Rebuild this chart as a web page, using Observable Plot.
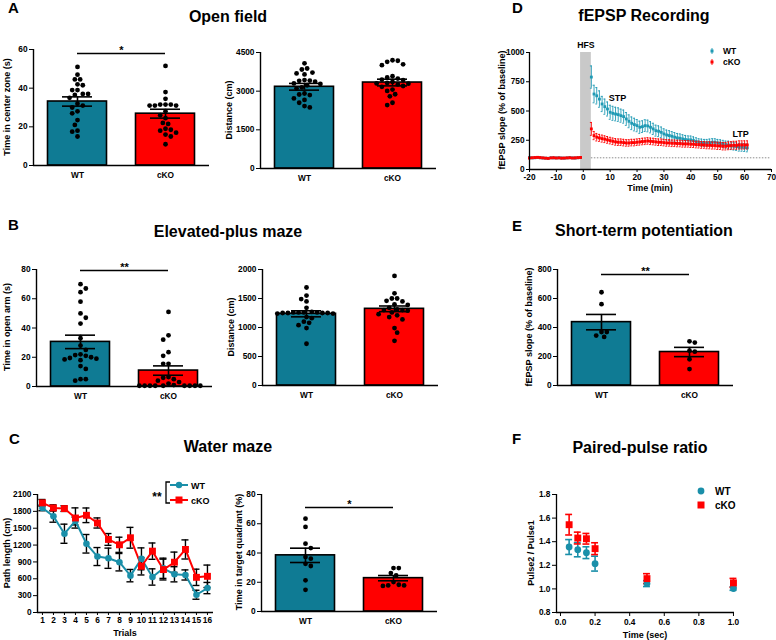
<!DOCTYPE html>
<html><head><meta charset="utf-8">
<script src="https://cdn.jsdelivr.net/npm/d3@7"></script>
<script src="https://cdn.jsdelivr.net/npm/@observablehq/plot@0.6"></script>
<style>
html,body{margin:0;padding:0;background:#fff;}
#page{position:relative;width:776px;height:640px;overflow:hidden;font-family:"Liberation Sans",Arial,sans-serif;}
.pw{position:absolute;}
.pw svg{display:block;overflow:visible;max-width:none;}
.pw g[aria-label^="y-axis"] line,.pw g[aria-label^="x-axis"] line{stroke-width:1.3px;}
#ov{position:absolute;left:0;top:0;pointer-events:none;}
</style></head><body><div id="page"></div>
<script>
// ---------------- DATA ----------------
const groups = ["WT", "cKO"];

// A: Open field
const centerTimeTicks = [0, 20, 40, 60];
const centerTimeMean = [33.1, 26.8];
const centerTimeSem = [2.4, 2.3];
const centerTimeWT = [51, 47, 44.5, 44.5, 42, 41.5, 39, 39, 37, 37, 36.5, 35, 32, 31, 30, 28, 27, 23.5, 21, 18, 17.5, 15];
const centerTimeKO = [51.5, 38, 34.5, 31.5, 31.5, 31, 31, 31, 31.5, 28, 26, 24.5, 22, 21.5, 19, 18.5, 18, 17, 16, 15, 11];
const centerTimeSig = 57.9;

const openDistTicks = [0, 1500, 3000, 4500];
const openDistMean = [3170, 3335];
const openDistSem = [130, 130];
const openDistWT = [4080, 3880, 3840, 3720, 3690, 3650, 3430, 3410, 3400, 3370, 3300, 3280, 3230, 3150, 3110, 2910, 2870, 2850, 2720, 2660, 2550, 2420, 2370];
const openDistKO = [4200, 4180, 4140, 4040, 4010, 3580, 3530, 3490, 3450, 3430, 3360, 3320, 3300, 3290, 3260, 3200, 3170, 3060, 3010, 2880, 2800, 2550, 2460];

// B: Elevated-plus maze
const openArmTicks = [0, 20, 40, 60, 80];
const openArmMean = [30.5, 10.9];
const openArmSem = [4.6, 3.2];
const openArmWT = [70, 67, 64.5, 58, 50, 47, 43, 33, 28, 25, 22, 21, 20, 19.5, 19, 18, 18.5, 21.5, 14, 12, 5, 4, 5];
const openArmKO = [51, 35, 32, 23.5, 21, 15.5, 15.5, 6.5, 6, 5, 4, 3, 2, 1, 0.5, 0.5, 0.5, 0.5, 0.5, 0.5, 0.5, 0.5, 0.5];
const openArmSig = 79.3;

const epmDistTicks = [0, 500, 1000, 1500, 2000];
const epmDistMean = [1236, 1322];
const epmDistSem = [52, 49];
const epmDistWT = [1690, 1550, 1490, 1450, 1340, 1270, 1260, 1260, 1250, 1260, 1250, 1250, 1240, 1250, 1260, 1240, 1180, 1160, 1100, 1080, 1040, 990, 720];
const epmDistKO = [1890, 1590, 1500, 1460, 1450, 1500, 1400, 1390, 1340, 1310, 1300, 1300, 1290, 1260, 1230, 1210, 1180, 1140, 990, 910, 770];

// C: Water maze
const trials = [1, 2, 3, 4, 5, 6, 7, 8, 9, 10, 11, 12, 13, 14, 15, 16];
const pathTicks = [0, 300, 600, 900, 1200, 1500, 1800, 2100];
const pathWT = [1861, 1712, 1402, 1629, 1223, 996, 966, 895, 656, 955, 632, 787, 680, 668, 316, 435];
const pathWTsem = [50, 105, 170, 70, 165, 160, 180, 155, 110, 195, 145, 180, 135, 90, 80, 100];
const pathKO = [1951, 1861, 1849, 1682, 1730, 1593, 1300, 1205, 1330, 823, 1092, 764, 895, 1122, 626, 644];
const pathKOsem = [60, 55, 50, 180, 130, 90, 105, 135, 185, 155, 145, 185, 180, 170, 145, 200];

const quadTicks = [0, 20, 40, 60, 80];
const quadMean = [38.4, 22.8];
const quadSem = [4.9, 1.8];
const quadWT = [63.5, 57.8, 46.4, 43.4, 37.2, 36.1, 32.6, 31.1, 21.3, 14.8];
const quadKO = [29.7, 29.7, 26.3, 24.7, 20.1, 18.3, 17.8, 17.8, 17.5];
const quadSig = 71.1;

// D: fEPSP recording
const dTicksX = [-20, -10, 0, 10, 20, 30, 40, 50, 60, 70];
const dTicksY = [0, 250, 500, 750, 1000];
const dTimesBase = [-20, -19, -18, -17, -16, -15, -14, -13, -12, -11, -10, -9, -8, -7, -6, -5, -4, -3, -2, -1];
const dTimesPost = [3, 4, 5, 6, 7, 8, 9, 10, 11, 12, 13, 14, 15, 16, 17, 18, 19, 20, 21, 22, 23, 24, 25, 26, 27, 28, 29, 30, 31, 32, 33, 34, 35, 36, 37, 38, 39, 40, 41, 42, 43, 44, 45, 46, 47, 48, 49, 50, 51, 52, 53, 54, 55, 56, 57, 58, 59, 60, 61];
const fepspWTbase = [101, 99, 100, 103, 100, 98, 97, 96, 100, 99, 99, 100, 98, 97, 99, 101, 99, 98, 100, 102];
const fepspKObase = [98, 100, 102, 104, 101, 99, 97, 95, 99, 100, 98, 99, 97, 98, 99, 100, 98, 99, 101, 103];
const fepspBaseSem = [6, 5, 6, 5, 6, 5, 5, 6, 5, 6, 5, 5, 6, 5, 5, 6, 5, 6, 5, 6];
const fepspWT = [790, 645, 630, 602, 560, 537, 517, 489, 480, 474, 469, 460, 452, 432, 412, 395, 384, 375, 361, 366, 375, 372, 361, 347, 332, 327, 318, 304, 295, 290, 284, 276, 270, 267, 261, 256, 253, 253, 247, 239, 233, 230, 227, 227, 230, 233, 233, 227, 224, 219, 213, 210, 202, 199, 196, 190, 190, 188, 185];
const fepspWTsem = [95, 75, 70, 70, 65, 65, 60, 60, 60, 58, 58, 56, 56, 55, 55, 54, 54, 52, 52, 50, 50, 50, 48, 48, 47, 46, 45, 44, 42, 42, 40, 40, 38, 37, 36, 35, 34, 33, 32, 32, 30, 30, 30, 30, 30, 30, 30, 30, 30, 30, 30, 32, 32, 33, 33, 33, 34, 34, 34];
const fepspKO = [347, 290, 276, 270, 264, 259, 253, 247, 241, 236, 233, 233, 230, 227, 227, 230, 230, 233, 236, 239, 241, 244, 241, 239, 236, 233, 233, 230, 227, 227, 224, 224, 222, 222, 219, 219, 219, 216, 216, 213, 213, 210, 210, 207, 207, 205, 205, 202, 202, 199, 199, 202, 205, 207, 207, 210, 210, 210, 210];
const fepspKOsem = [55, 35, 32, 30, 30, 29, 29, 28, 28, 28, 28, 28, 28, 28, 28, 28, 28, 28, 28, 28, 28, 28, 28, 28, 28, 28, 28, 28, 28, 28, 28, 28, 28, 28, 28, 28, 28, 28, 28, 28, 29, 29, 29, 30, 30, 30, 30, 31, 31, 32, 32, 33, 33, 34, 34, 35, 35, 35, 35];
const hfsBand = {start: -1, end: 3, label: "HFS"};
const dNotes = [{t: 12.7, v: 607, label: "STP"}, {t: 58.5, v: 299, label: "LTP"}];
const dBaseline = {v: 100, from: 3, to: 69.5};

// E: Short-term potentiation
const stpTicks = [0, 200, 400, 600, 800];
const stpMean = [437, 231];
const stpSem = [53, 32];
const stpWT = [643, 561, 369, 335, 344, 369];
const stpKO = [305, 296, 240, 233, 181, 113];
const stpSig = 765;

// F: Paired-pulse ratio
const ppInterval = [0.05, 0.1, 0.15, 0.2, 0.5, 1.0];
const ppTicksX = [0, 0.2, 0.4, 0.6, 0.8, 1.0];
const ppTicksY = [0.8, 1.0, 1.2, 1.4, 1.6, 1.8];
const ppWT = [1.355, 1.332, 1.307, 1.214, 1.045, 1.003];
const ppWTsem = [0.063, 0.06, 0.05, 0.063, 0.025, 0.015];
const ppKO = [1.544, 1.431, 1.425, 1.341, 1.087, 1.051];
const ppKOsem = [0.087, 0.05, 0.045, 0.05, 0.042, 0.038];

// ---------------- STYLE / LAYOUT ----------------
const TEAL = "#0f7b94", RED = "#ff0000", TEAL_L = "#1f9ab4", TEAL_F = "#1a8fa9";
const FONT = "'Liberation Sans', Arial, Helvetica, sans-serif";
const page = document.getElementById("page");
const baseStyle = {background: "transparent", fontFamily: FONT, fontSize: "8.3px", fontWeight: "bold", color: "#000", overflow: "visible"};
const M = {l: 40, r: 14, t: 16, b: 28};
const plain = d => String(d);

function mount(frame, opts) {
  const W = frame.x1 - frame.x0 + M.l + M.r;
  const H = frame.y1 - frame.y0 + M.t + M.b;
  const svg = Plot.plot(Object.assign({width: W, height: H, marginLeft: M.l, marginRight: M.r, marginTop: M.t, marginBottom: M.b, style: baseStyle}, opts));
  const div = document.createElement("div");
  div.className = "pw";
  div.style.left = (frame.x0 - M.l) + "px";
  div.style.top = (frame.y0 - M.t) + "px";
  div.style.width = W + "px";
  div.style.height = H + "px";
  div.appendChild(svg);
  page.appendChild(div);
}

// simple beeswarm layout (pixel space), returns horizontal pixel offsets
function swarm(vals, pxY, r) {
  const d = 2 * r + 0.5;
  const idx = vals.map((_, i) => i).sort((a, b) => vals[b] - vals[a]);
  const placed = [], out = new Array(vals.length).fill(0);
  idx.forEach((i, n) => {
    const y = vals[i] * pxY;
    for (let k = 0; k < 80; k++) {
      const mag = k * d / 2;
      const cands = k === 0 ? [0] : (n % 2 ? [mag, -mag] : [-mag, mag]);
      let found = null;
      for (const x of cands) {
        if (placed.every(p => (p.x - x) ** 2 + (p.y - y) ** 2 >= d * d - 0.01)) { found = x; break; }
      }
      if (found !== null) { out[i] = found; placed.push({x: found, y}); break; }
    }
  });
  return out;
}

function barPanel(p) {
  const {frame, yDomain, yTicks, means, sems, dots, sig} = p;
  const xDomain = [0.5, 2.5];
  const pxX = (frame.x1 - frame.x0) / (xDomain[1] - xDomain[0]);
  const pxY = (frame.y1 - frame.y0) / (yDomain[1] - yDomain[0]);
  const rows = groups.map((g, i) => ({g, pos: i + 1, mean: means[i], lo: means[i] - sems[i], hi: means[i] + sems[i]}));
  const dotRows = [];
  dots.forEach((vals, i) => {
    const offs = swarm(vals, pxY, 2.4);
    vals.forEach((v, j) => dotRows.push({pos: i + 1 + offs[j] / pxX, v}));
  });
  const hw = 29.5 / pxX, cap = 15 / pxX;
  const marks = [
    Plot.rect([rows[0]], {x1: d => d.pos - hw, x2: d => d.pos + hw, y1: yDomain[0], y2: "mean", fill: TEAL, stroke: "#000", strokeWidth: 1.6}),
    Plot.rect([rows[1]], {x1: d => d.pos - hw, x2: d => d.pos + hw, y1: yDomain[0], y2: "mean", fill: RED, stroke: "#000", strokeWidth: 1.6}),
    Plot.dot(dotRows, {x: "pos", y: "v", r: 2.4, fill: "#000"}),
    Plot.ruleX(rows, {x: "pos", y1: "lo", y2: "hi", strokeWidth: 1.6}),
    Plot.ruleY(rows, {y: "hi", x1: d => d.pos - cap, x2: d => d.pos + cap, strokeWidth: 1.6}),
    Plot.ruleY(rows, {y: "lo", x1: d => d.pos - cap, x2: d => d.pos + cap, strokeWidth: 1.6}),
    Plot.ruleX([xDomain[0]], {strokeWidth: 1.4}),
    Plot.ruleY([yDomain[0]], {strokeWidth: 1.4})
  ];
  if (sig) {
    marks.push(Plot.ruleY([sig.value], {x1: 1, x2: 2, strokeWidth: 1.5}));
    marks.push(Plot.text([sig.value], {x: 1.5, y: d => d, text: () => sig.stars, dy: -3, fontSize: 11}));
  }
  mount(frame, {
    x: {domain: xDomain, ticks: [1, 2], tickFormat: i => groups[i - 1], tickSize: 0, tickPadding: 7, label: null},
    y: {domain: yDomain, ticks: yTicks, tickFormat: plain, tickSize: 4, tickPadding: 2, label: null},
    marks
  });
}

// ---------------- PANELS ----------------
barPanel({frame: {x0: 33, x1: 209, y0: 49, y1: 165}, yDomain: [0, 60], yTicks: centerTimeTicks,
  means: centerTimeMean, sems: centerTimeSem, dots: [centerTimeWT, centerTimeKO], sig: {value: centerTimeSig, stars: "*"}});
barPanel({frame: {x0: 260, x1: 436, y0: 52, y1: 168}, yDomain: [0, 4500], yTicks: openDistTicks,
  means: openDistMean, sems: openDistSem, dots: [openDistWT, openDistKO]});
barPanel({frame: {x0: 36, x1: 212, y0: 269, y1: 386}, yDomain: [0, 80], yTicks: openArmTicks,
  means: openArmMean, sems: openArmSem, dots: [openArmWT, openArmKO], sig: {value: openArmSig, stars: "**"}});
barPanel({frame: {x0: 262, x1: 438, y0: 269, y1: 385}, yDomain: [0, 2000], yTicks: epmDistTicks,
  means: epmDistMean, sems: epmDistSem, dots: [epmDistWT, epmDistKO]});
barPanel({frame: {x0: 261, x1: 437, y0: 494, y1: 611}, yDomain: [0, 80], yTicks: quadTicks,
  means: quadMean, sems: quadSem, dots: [quadWT, quadKO], sig: {value: quadSig, stars: "*"}});
barPanel({frame: {x0: 557, x1: 733, y0: 269, y1: 385}, yDomain: [0, 800], yTicks: stpTicks,
  means: stpMean, sems: stpSem, dots: [stpWT, stpKO], sig: {value: stpSig, stars: "**"}});

// C left: water maze path length
(function () {
  const mk = (vals, sems) => trials.map((t, i) => ({t, v: vals[i], lo: vals[i] - sems[i], hi: vals[i] + sems[i]}));
  const wt = mk(pathWT, pathWTsem), ko = mk(pathKO, pathKOsem);
  const all = wt.concat(ko);
  const cap = 0.32;
  mount({x0: 37, x1: 213, y0: 494, y1: 612}, {
    x: {domain: [0.55, 16.55], ticks: trials, tickFormat: plain, tickSize: 3, tickPadding: 2, label: null},
    y: {domain: [0, 2100], ticks: pathTicks, tickFormat: plain, tickSize: 4, tickPadding: 2, label: null},
    marks: [
      Plot.ruleX(all, {x: "t", y1: "lo", y2: "hi", strokeWidth: 1.4}),
      Plot.ruleY(all, {y: "hi", x1: d => d.t - cap, x2: d => d.t + cap, strokeWidth: 1.4}),
      Plot.ruleY(all, {y: "lo", x1: d => d.t - cap, x2: d => d.t + cap, strokeWidth: 1.4}),
      Plot.line(wt, {x: "t", y: "v", stroke: TEAL_F, strokeWidth: 2}),
      Plot.line(ko, {x: "t", y: "v", stroke: RED, strokeWidth: 2}),
      Plot.dot(wt, {x: "t", y: "v", r: 3.3, fill: TEAL_F}),
      Plot.dot(ko, {x: "t", y: "v", symbol: "square", r: 3.9, fill: RED}),
      Plot.ruleX([0.55], {strokeWidth: 1.4}),
      Plot.ruleY([0], {strokeWidth: 1.4})
    ]
  });
})();

// D: fEPSP recording
(function () {
  const mk = (times, vals, sems) => times.map((t, i) => ({t, v: vals[i], lo: vals[i] - sems[i], hi: vals[i] + sems[i]}));
  const wt = mk(dTimesBase, fepspWTbase, fepspBaseSem).concat(mk(dTimesPost, fepspWT, fepspWTsem));
  const ko = mk(dTimesBase, fepspKObase, fepspBaseSem).concat(mk(dTimesPost, fepspKO, fepspKOsem));
  const cap = 0.35;
  const series = (rows, color) => [
    Plot.ruleX(rows, {x: "t", y1: "lo", y2: "hi", stroke: color, strokeWidth: 0.9}),
    Plot.ruleY(rows, {y: "hi", x1: d => d.t - cap, x2: d => d.t + cap, stroke: color, strokeWidth: 0.9}),
    Plot.ruleY(rows, {y: "lo", x1: d => d.t - cap, x2: d => d.t + cap, stroke: color, strokeWidth: 0.9}),
    Plot.dot(rows, {x: "t", y: "v", symbol: "square", r: 1.6, fill: color})
  ];
  mount({x0: 529, x1: 771, y0: 52, y1: 169}, {
    x: {domain: [-20, 70], ticks: dTicksX, tickFormat: plain, tickSize: 3, tickPadding: 2, label: null},
    y: {domain: [0, 1000], ticks: dTicksY, tickFormat: plain, tickSize: 3, tickPadding: 2, label: null},
    marks: [
      Plot.rect([hfsBand], {x1: "start", x2: "end", fill: "#c9c9c9"}),
      Plot.ruleY([dBaseline], {y: "v", x1: "from", x2: "to", stroke: "#8c8c8c", strokeWidth: 1, strokeDasharray: "1.5,1.5"}),
      ...series(wt, TEAL_L),
      ...series(ko, RED),
      Plot.text([hfsBand], {x: d => (d.start + d.end) / 2, y: () => 1000, text: "label", dy: -7, fontSize: 8.7}),
      Plot.text(dNotes, {x: "t", y: "v", text: "label", fontSize: 9}),
      Plot.ruleX([-20], {strokeWidth: 1.3}),
      Plot.ruleY([0], {strokeWidth: 1.3})
    ]
  });
})();

// F: paired-pulse ratio
(function () {
  const mk = (vals, sems) => ppInterval.map((t, i) => ({t, v: vals[i], lo: vals[i] - sems[i], hi: vals[i] + sems[i]}));
  const wt = mk(ppWT, ppWTsem), ko = mk(ppKO, ppKOsem);
  const cap = 0.02;
  const err = (rows, color) => [
    Plot.ruleX(rows, {x: "t", y1: "lo", y2: "hi", stroke: color, strokeWidth: 1.6}),
    Plot.ruleY(rows, {y: "hi", x1: d => d.t - cap, x2: d => d.t + cap, stroke: color, strokeWidth: 1.6}),
    Plot.ruleY(rows, {y: "lo", x1: d => d.t - cap, x2: d => d.t + cap, stroke: color, strokeWidth: 1.6})
  ];
  mount({x0: 556, x1: 734, y0: 494, y1: 612}, {
    x: {domain: [-0.023, 1.006], ticks: ppTicksX, tickFormat: ".1f", tickSize: 4, tickPadding: 3, label: null},
    y: {domain: [0.8, 1.8], ticks: ppTicksY, tickFormat: ".1f", tickSize: 4, tickPadding: 2, label: null},
    marks: [
      ...err(wt, TEAL_F),
      ...err(ko, RED),
      Plot.dot(wt, {x: "t", y: "v", r: 3.4, fill: TEAL_F}),
      Plot.dot(ko, {x: "t", y: "v", symbol: "square", r: 3.9, fill: RED}),
      Plot.ruleX([-0.023], {strokeWidth: 1.3}),
      Plot.ruleY([0.8], {strokeWidth: 1.3})
    ]
  });
})();

// ---------------- TEXT OVERLAY ----------------
const ov = d3.select(page).append("svg").attr("id", "ov").attr("width", 776).attr("height", 640)
  .style("font-family", FONT).style("font-weight", "bold");
const letters = [["A", 8, 13], ["D", 512, 13], ["B", 8, 230], ["E", 512, 231], ["C", 9, 444], ["F", 512, 444]];
letters.forEach(([s, x, y]) => ov.append("text").attr("x", x).attr("y", y).attr("font-size", 15).text(s));
const titles = [["Open field", 228, 22], ["fEPSP Recording", 644, 21], ["Elevated-plus maze", 228, 237],
  ["Short-term potentiation", 644, 236], ["Water maze", 228, 452], ["Paired-pulse ratio", 640, 453]];
titles.forEach(([s, x, y]) => ov.append("text").attr("x", x).attr("y", y).attr("font-size", 16).attr("text-anchor", "middle").text(s));
const yLabels = [["Time in center zone (s)", 7, 107], ["Distance (cm)", 229, 110], ["fEPSP slope (% of baseline)", 502, 110],
  ["Time in open arm (s)", 7, 327], ["Distance (cm)", 231, 327], ["fEPSP slope (% of baseline)", 529, 327],
  ["Path length (cm)", 7, 553], ["Time in target quadrant (%)", 239, 552], ["Pulse2 / Pulse1", 531, 553]];
yLabels.forEach(([s, x, y]) => ov.append("text").attr("transform", `translate(${x},${y}) rotate(-90)`)
  .attr("font-size", 9).attr("text-anchor", "middle").attr("dominant-baseline", "central").text(s));
const xLabels = [["Time (min)", 650, 191], ["Trials", 125, 636], ["Time (sec)", 645, 638]];
xLabels.forEach(([s, x, y]) => ov.append("text").attr("x", x).attr("y", y).attr("font-size", 9).attr("text-anchor", "middle").text(s));

// legend C
ov.append("text").attr("x", 157).attr("y", 501).attr("font-size", 12).attr("text-anchor", "middle").text("**");
ov.append("path").attr("d", "M170,482H166V503H170").attr("fill", "none").attr("stroke", "#000").attr("stroke-width", 1.3);
ov.append("line").attr("x1", 170).attr("x2", 188).attr("y1", 485).attr("y2", 485).attr("stroke", TEAL_F).attr("stroke-width", 2);
ov.append("circle").attr("cx", 179).attr("cy", 485).attr("r", 3.2).attr("fill", TEAL_F);
ov.append("text").attr("x", 191).attr("y", 488.5).attr("font-size", 9).text(groups[0]);
ov.append("line").attr("x1", 170).attr("x2", 188).attr("y1", 500).attr("y2", 500).attr("stroke", RED).attr("stroke-width", 2);
ov.append("rect").attr("x", 175.5).attr("y", 496.5).attr("width", 7).attr("height", 7).attr("fill", RED);
ov.append("text").attr("x", 191).attr("y", 503.5).attr("font-size", 9).text(groups[1]);

// legend D
[[TEAL_L, 51, groups[0]], [RED, 62, groups[1]]].forEach(([c, y, s]) => {
  ov.append("line").attr("x1", 712).attr("x2", 712).attr("y1", y - 3).attr("y2", y + 3).attr("stroke", c).attr("stroke-width", 0.9);
  ov.append("rect").attr("x", 710.5).attr("y", y - 1.5).attr("width", 3).attr("height", 3).attr("fill", c);
  ov.append("text").attr("x", 723).attr("y", y + 3).attr("font-size", 8.5).text(s);
});

// legend F
ov.append("circle").attr("cx", 701).attr("cy", 491).attr("r", 3.4).attr("fill", TEAL_F);
ov.append("text").attr("x", 715).attr("y", 494.5).attr("font-size", 10).text(groups[0]);
ov.append("rect").attr("x", 697.5).attr("y", 501.5).attr("width", 7).attr("height", 7).attr("fill", RED);
ov.append("text").attr("x", 715).attr("y", 508.5).attr("font-size", 10).text(groups[1]);
</script></body></html>
